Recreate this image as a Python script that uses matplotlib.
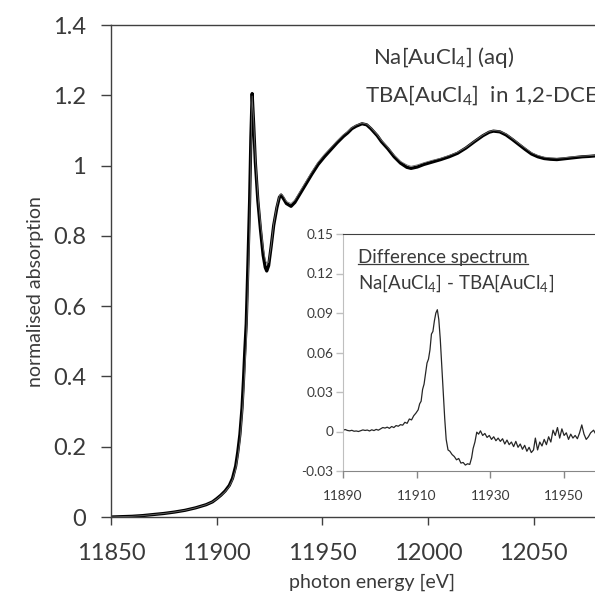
import numpy as np
import matplotlib
matplotlib.use("Agg")
import matplotlib.pyplot as plt
from matplotlib.lines import Line2D

plt.rcParams['font.family'] = ['Lato', 'DejaVu Sans']
plt.rcParams['mathtext.fontset'] = 'custom'
plt.rcParams['mathtext.rm'] = 'Lato'
plt.rcParams['mathtext.it'] = 'Lato:italic'
plt.rcParams['mathtext.bf'] = 'Lato:bold'

TEXT = '#3a3a3a'

# XANES spectra, Au L3 edge
energy = [11850, 11855, 11860, 11865, 11870, 11875, 11880, 11885, 11890, 11895,
          11898, 11900, 11902, 11904, 11906, 11907.5, 11909, 11910, 11911, 11912,
          11912.7, 11913.3, 11914, 11914.8, 11915.6, 11916.2, 11916.8, 11917.5, 11918.3, 11919.5,
          11920.7, 11922, 11923, 11923.7, 11924.6, 11925.8, 11927, 11928.5, 11929.7, 11930.5,
          11931.7, 11933, 11935.2, 11937, 11939, 11941, 11943, 11945, 11948, 11951,
          11954, 11957, 11960, 11962, 11964, 11966, 11968.8, 11971, 11973, 11976,
          11978, 11981, 11984, 11987, 11990, 11992, 11995, 11998, 12002, 12006,
          12010, 12014, 12018, 12022, 12026, 12029, 12031, 12034, 12037, 12040,
          12043, 12046, 12049, 12052, 12055, 12058, 12061, 12064, 12067, 12070,
          12073, 12076, 12080]

na_aq = [0.000, 0.001, 0.002, 0.004, 0.007, 0.010, 0.014, 0.019, 0.026, 0.035,
         0.043, 0.052, 0.062, 0.074, 0.090, 0.110, 0.145, 0.185, 0.235, 0.310,
         0.390, 0.470, 0.550, 0.720, 0.900, 1.080, 1.205, 1.120, 1.010, 0.900,
         0.820, 0.745, 0.710, 0.700, 0.715, 0.770, 0.830, 0.880, 0.910, 0.916,
         0.905, 0.892, 0.884, 0.895, 0.915, 0.935, 0.955, 0.975, 1.003, 1.025,
         1.045, 1.065, 1.083, 1.093, 1.105, 1.112, 1.119, 1.116, 1.105, 1.085,
         1.068, 1.048, 1.025, 1.007, 0.995, 0.992, 0.996, 1.003, 1.010, 1.017,
         1.025, 1.035, 1.050, 1.068, 1.085, 1.095, 1.098, 1.096, 1.087, 1.074,
         1.060, 1.046, 1.033, 1.025, 1.020, 1.018, 1.017, 1.019, 1.021, 1.023,
         1.025, 1.026, 1.028]

tba_dce = [0.000, 0.001, 0.002, 0.004, 0.007, 0.010, 0.014, 0.019, 0.026, 0.035,
           0.043, 0.051, 0.061, 0.072, 0.087, 0.105, 0.135, 0.170, 0.215, 0.285,
           0.345, 0.415, 0.490, 0.640, 0.810, 1.020, 1.198, 1.130, 1.025, 0.918,
           0.840, 0.768, 0.732, 0.722, 0.725, 0.772, 0.834, 0.886, 0.914, 0.920,
           0.912, 0.898, 0.892, 0.902, 0.922, 0.942, 0.962, 0.982, 1.010, 1.032,
           1.051, 1.070, 1.088, 1.097, 1.108, 1.115, 1.121, 1.118, 1.108, 1.088,
           1.072, 1.052, 1.030, 1.012, 1.002, 0.998, 1.002, 1.008, 1.015, 1.021,
           1.029, 1.038, 1.052, 1.070, 1.087, 1.097, 1.100, 1.098, 1.090, 1.077,
           1.063, 1.050, 1.037, 1.029, 1.024, 1.022, 1.021, 1.022, 1.024, 1.026,
           1.027, 1.028, 1.030]

# Na[AuCl4] - TBA[AuCl4]
diff_energy = [11890.0, 11890.6, 11891.2, 11891.8, 11892.4, 11893.0, 11893.6, 11894.2, 11894.8, 11895.4,
               11896.0, 11896.6, 11897.2, 11897.8, 11898.4, 11899.0, 11899.6, 11900.2, 11900.8, 11901.4,
               11902.0, 11902.6, 11903.2, 11903.8, 11904.4, 11905.0, 11905.6, 11906.2, 11906.8, 11907.4,
               11908.0, 11908.6, 11909.2, 11909.8, 11910.4, 11910.8, 11911.2, 11911.6, 11912.0, 11912.4,
               11912.8, 11913.2, 11913.6, 11914.0, 11914.4, 11914.8, 11915.2, 11915.6, 11916.0, 11916.4,
               11916.8, 11917.2, 11917.6, 11918.0, 11918.5, 11919.0, 11919.6, 11920.2, 11920.8, 11921.4,
               11922.0, 11922.6, 11923.2, 11923.8, 11924.4, 11924.9, 11925.3, 11925.8, 11926.3, 11926.8,
               11927.3, 11927.9, 11928.5, 11929.1, 11929.7, 11930.3, 11930.9, 11931.5, 11932.1, 11932.7,
               11933.3, 11933.9, 11934.5, 11935.1, 11935.7, 11936.3, 11936.9, 11937.5, 11938.1, 11938.7,
               11939.3, 11939.9, 11940.5, 11941.1, 11941.7, 11942.2, 11942.8, 11943.4, 11944.0, 11944.6,
               11945.2, 11945.8, 11946.4, 11947.0, 11947.6, 11948.2, 11948.8, 11949.4, 11950.0, 11950.6,
               11951.2, 11951.8, 11952.4, 11953.0, 11953.6, 11954.2, 11954.8, 11955.4, 11956.0, 11956.6,
               11957.2, 11958.0, 11958.6]

diff_value = [0.0010, 0.0015, 0.0008, 0.0005, 0.0009, 0.0002, 0.0004, 0.0000, 0.0006, 0.0012,
              0.0008, 0.0011, 0.0004, 0.0013, 0.0007, 0.0016, 0.0010, 0.0020, 0.0030, 0.0026,
              0.0033, 0.0024, 0.0038, 0.0030, 0.0045, 0.0040, 0.0052, 0.0048, 0.0070, 0.0062,
              0.0095, 0.0088, 0.0120, 0.0140, 0.0165, 0.0210, 0.0230, 0.0320, 0.0360, 0.0440,
              0.0520, 0.0550, 0.0620, 0.0740, 0.0760, 0.0840, 0.0900, 0.0925, 0.0850, 0.0700,
              0.0500, 0.0300, 0.0100, -0.0060, -0.0140, -0.0150, -0.0175, -0.0190, -0.0215, -0.0205,
              -0.0240, -0.0235, -0.0255, -0.0245, -0.0250, -0.0200, -0.0130, -0.0080, -0.0005, -0.0020,
              0.0005, -0.0030, -0.0015, -0.0045, -0.0030, -0.0060, -0.0040, -0.0070, -0.0050, -0.0075,
              -0.0055, -0.0095, -0.0065, -0.0100, -0.0080, -0.0115, -0.0075, -0.0120, -0.0095, -0.0135,
              -0.0105, -0.0150, -0.0120, -0.0160, -0.0140, -0.0050, -0.0140, -0.0080, -0.0110, -0.0060,
              -0.0100, -0.0040, -0.0080, 0.0010, -0.0030, 0.0030, -0.0050, 0.0020, -0.0030, -0.0010,
              -0.0060, -0.0020, -0.0050, -0.0030, -0.0055, -0.0010, 0.0050, -0.0020, -0.0060, -0.0040,
              -0.0010, 0.0010, -0.0020]

main_xticks = [11850, 11900, 11950, 12000, 12050]
main_yticks = [0, 0.2, 0.4, 0.6, 0.8, 1.0, 1.2, 1.4]
main_ylabels = ['0', '0.2', '0.4', '0.6', '0.8', '1', '1.2', '1.4']
inset_xticks = [11890, 11910, 11930, 11950]
inset_yticks = [-0.03, 0, 0.03, 0.06, 0.09, 0.12, 0.15]
inset_ylabels = ['-0.03', '0', '0.03', '0.06', '0.09', '0.12', '0.15']

W, H = 595, 599
fig = plt.figure(figsize=(W / 100, H / 100), dpi=100)

# main panel (pixel box: left 111, top 25, bottom 517, runs past the right edge)
ax = fig.add_axes([111 / W, 1 - 517 / H, (W - 111) / W, (517 - 25) / H])
ax.plot(energy, na_aq, color='black', lw=2.3, solid_joinstyle='round')
ax.plot(energy, tba_dce, color='#6a6a6a', lw=0.6)
ax.set_xlim(11850, 11850 + (W - 111) / 2.113)
ax.set_ylim(0, 1.4)
ax.set_xticks(main_xticks)
ax.set_yticks(main_yticks)
ax.set_yticklabels(main_ylabels)
ax.spines['right'].set_visible(False)
for s in ['left', 'bottom', 'top']:
    ax.spines[s].set_color('#404040')
    ax.spines[s].set_linewidth(1.0)
ax.tick_params(axis='y', direction='out', length=7, width=1, color='#404040',
               labelsize=17, labelcolor=TEXT, pad=11)
ax.tick_params(axis='x', direction='out', length=6, width=1, color='#404040',
               labelsize=17, labelcolor=TEXT, pad=13)
fig.text(372 / W, 1 - 582 / H, 'photon energy [eV]', ha='center', va='center',
         fontsize=14, color=TEXT)
fig.text(36 / W, 1 - 292 / H, 'normalised absorption', ha='center', va='center',
         rotation=90, fontsize=14, color=TEXT)

ax.text(373 / W, 1 - 57 / H, r'Na[AuCl$_\mathrm{4}$] (aq)', transform=fig.transFigure,
        ha='left', va='center', fontsize=16, color=TEXT)
ax.text(365 / W, 1 - 95 / H, r'TBA[AuCl$_\mathrm{4}$]  in 1,2-DCE', transform=fig.transFigure,
        ha='left', va='center', fontsize=16, color=TEXT, clip_on=False)

# inset: difference spectrum
ins = fig.add_axes([343 / W, 1 - 471 / H, (W - 343) / W, (471 - 234) / H])
ins.set_facecolor('white')
ins.plot(diff_energy, diff_value, color='#262626', lw=0.9)
ins.set_xlim(11890, 11890 + (W - 343) / 3.685)
ins.set_ylim(-0.03, 0.15)
ins.set_xticks(inset_xticks)
ins.set_yticks(inset_yticks)
ins.set_yticklabels(inset_ylabels)
ins.spines['right'].set_visible(False)
ins.spines['left'].set_color('#bfbfbf')
ins.spines['bottom'].set_color('#868686')
ins.spines['top'].set_color('#404040')
ins.tick_params(axis='y', direction='out', length=5, width=1, color='#bfbfbf',
                labelsize=9.8, labelcolor=TEXT, pad=2)
ins.tick_params(axis='x', direction='out', length=5, width=1, color='#868686',
                labelsize=9.8, labelcolor=TEXT, pad=9)

t1 = fig.text(358 / W, 1 - 257 / H, 'Difference spectrum', ha='left', va='center',
              fontsize=13.5, color=TEXT)
fig.text(358 / W, 1 - 283 / H, r'Na[AuCl$_\mathrm{4}$] - TBA[AuCl$_\mathrm{4}$]',
         ha='left', va='center', fontsize=13.5, color=TEXT)

# underline the inset heading
fig.canvas.draw()
bb = t1.get_window_extent(renderer=fig.canvas.get_renderer())
y_ul = (bb.y0 + 2) / H
fig.add_artist(Line2D([bb.x0 / W, bb.x1 / W], [y_ul, y_ul], transform=fig.transFigure,
                      color=TEXT, lw=0.9))

fig.savefig('out.png', dpi=100)
